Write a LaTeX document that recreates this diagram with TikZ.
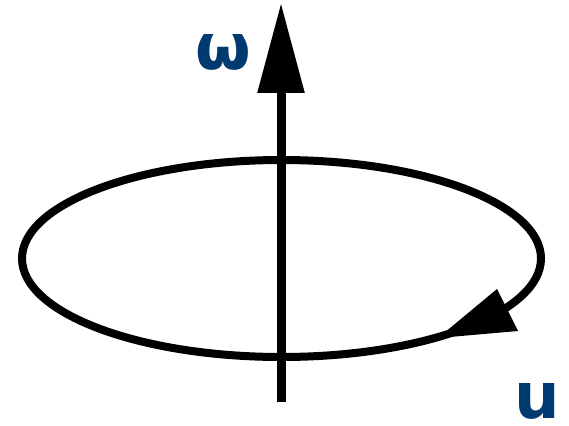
\documentclass[tikz,border=0pt]{standalone}
\usepackage{fontspec}
\setmainfont{DejaVu Sans}
\usetikzlibrary{arrows.meta}
\definecolor{navy}{RGB}{0,58,112}
\tikzset{
  lbl/.style={inner sep=0pt, text=navy, font=\bfseries\fontsize{64}{64}\selectfont},
  axis/.style={line width=9pt, -{Triangle[length=90pt,width=45pt]}},
  orbit/.style={line width=8pt},
  tiparrow/.style={fill=black, draw=none}
}
\begin{document}
\begin{tikzpicture}[x=1pt,y=-1pt]
\useasboundingbox (0,0) rectangle (569,425);
\coordinate (bottom) at (281,402);
\coordinate (top) at (281,3);
\draw[axis] (bottom) -- (top);
\draw[orbit] (281.5,258.5) ellipse [x radius=259.5, y radius=98.5];
\coordinate (t1) at (438,338);
\coordinate (t2) at (497,289);
\coordinate (t3) at (518,331);
\fill[tiparrow] (t1) -- (t2) -- (t3) -- cycle;
\node[lbl] (omega) at (223,52) {ω};
\node[lbl] (u) at (537,401) {u};
\end{tikzpicture}
\end{document}
